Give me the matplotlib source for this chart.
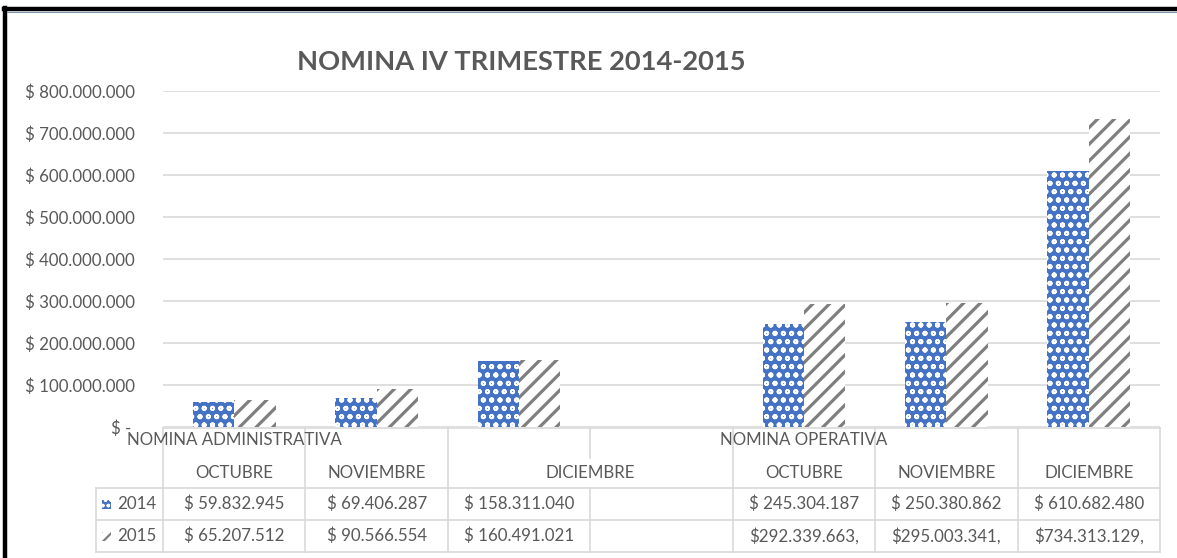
import matplotlib
matplotlib.use("Agg")
import matplotlib.pyplot as plt
import matplotlib.transforms as mtransforms
from matplotlib.patches import Rectangle
from matplotlib.lines import Line2D

# ---------------- data ----------------
groups = ["NOMINA ADMINISTRATIVA", "NOMINA OPERATIVA"]
group_start = [0, 4]
months = ["OCTUBRE", "NOVIEMBRE", "DICIEMBRE", "", "OCTUBRE", "NOVIEMBRE", "DICIEMBRE"]
series_names = ["2014", "2015"]
values_2014 = [59832945, 69406287, 158311040, None, 245304187, 250380862, 610682480]
values_2015 = [65207512, 90566554, 160491021, None, 292339663, 295003341, 734313129]
labels_2014 = ["$ 59.832.945", "$ 69.406.287", "$ 158.311.040", "",
               "$ 245.304.187", "$ 250.380.862", "$ 610.682.480"]
labels_2015 = ["$ 65.207.512", "$ 90.566.554", "$ 160.491.021", "",
               "$292.339.663,", "$295.003.341,", "$734.313.129,"]
y_ticks = [0, 100e6, 200e6, 300e6, 400e6, 500e6, 600e6, 700e6, 800e6]
y_tick_labels = ["$ - ", "$ 100.000.000", "$ 200.000.000", "$ 300.000.000",
                 "$ 400.000.000", "$ 500.000.000", "$ 600.000.000",
                 "$ 700.000.000", "$ 800.000.000"]
title = "NOMINA IV TRIMESTRE 2014-2015"

# ---------------- style ----------------
W, H = 1177, 558
TXT = "#595959"
GRID = "#D9D9D9"
BLUE = "#4472C4"
GRAY = "#7F7F7F"
FONT = "Lato"
FS = 12.2

plt.rcParams["font.family"] = [FONT, "DejaVu Sans"]

fig = plt.figure(figsize=(W / 100, H / 100), dpi=100)
fig.patch.set_facecolor("white")

ax_left, ax_right, ax_top, ax_bottom = 163, 1160, 91, 427
ax = fig.add_axes([ax_left / W, 1 - ax_bottom / H,
                   (ax_right - ax_left) / W, (ax_bottom - ax_top) / H])

n = len(months)
xs = list(range(n))
bw = 0.29

def clean(vals):
    return [0 if v is None else v for v in vals]

with plt.rc_context({"hatch.linewidth": 1.3}):
    b1 = ax.bar([x - bw / 2 for x in xs], clean(values_2014), width=bw,
                facecolor=BLUE, edgecolor="white", hatch="oo", linewidth=0,
                zorder=3)
with plt.rc_context({"hatch.linewidth": 2.3}):
    b2 = ax.bar([x + bw / 2 for x in xs], clean(values_2015), width=bw,
                facecolor="white", edgecolor=GRAY, hatch="//", linewidth=0,
                zorder=3)
for p in b1.patches:
    if hasattr(p, "set_hatch_linewidth"):
        p.set_hatch_linewidth(1.3)
for p in b2.patches:
    if hasattr(p, "set_hatch_linewidth"):
        p.set_hatch_linewidth(2.3)

ax.set_xlim(-0.5, n - 0.5)
ax.set_ylim(0, 800e6)
ax.set_yticks(y_ticks)
ax.set_yticklabels(y_tick_labels, fontsize=FS, color=TXT)
ax.set_xticks([])
ax.tick_params(axis="y", length=0, pad=20)
for s in ax.spines.values():
    s.set_visible(False)
ax.yaxis.grid(True, color=GRID, linewidth=1.2, zorder=0)
ax.set_axisbelow(True)

# title
fig.text(521 / W, 1 - 62 / H, title, ha="center", va="center",
         fontsize=19.6, fontweight="bold", color=TXT)

# ---------------- data table ----------------
tr = mtransforms.blended_transform_factory(ax.transData, fig.transFigure)
def fy(py):
    return 1 - py / H
def fx(px):
    return px / W

t_top, r_month, r_d1, r_d2, t_bot = 428, 458, 488, 520, 552

def hline(x0, x1, py, transform):
    fig.add_artist(Line2D([x0, x1], [fy(py), fy(py)], transform=transform,
                          color=GRID, linewidth=1.2, clip_on=False))

def vline(x, py0, py1, transform):
    fig.add_artist(Line2D([x, x], [fy(py0), fy(py1)], transform=transform,
                          color=GRID, linewidth=1.2, clip_on=False))

# horizontal lines
hline(-0.5, n - 0.5, t_top, tr)
for py in (r_d1, r_d2, t_bot):
    hline(-0.5, n - 0.5, py, tr)
    hline(fx(96), fx(ax_left), py, fig.transFigure)
vline(fx(96), r_d1, t_bot, fig.transFigure)

# vertical lines
for i in range(n + 1):
    xb = i - 0.5
    if 0 < i < n and months[i] == "":
        vline(xb, t_top, r_month, tr)
        vline(xb, r_d1, t_bot, tr)
    else:
        vline(xb, t_top, t_bot, tr)

# group labels
for g, s in zip(groups, group_start):
    fig.text(s, fy(440), g, transform=tr, ha="center", va="center",
             fontsize=FS, color=TXT)

# month labels
for i, m in enumerate(months):
    if not m:
        continue
    xc = i
    if i + 1 < n and months[i + 1] == "":
        xc = i + 0.5
    fig.text(xc, fy(473), m, transform=tr, ha="center", va="center",
             fontsize=FS, color=TXT)

# values
for i in range(n):
    fig.text(i, fy(504), labels_2014[i], transform=tr, ha="center",
             va="center", fontsize=FS, color=TXT)
    fig.text(i, fy(536), labels_2015[i], transform=tr, ha="center",
             va="center", fontsize=FS, color=TXT)

# legend keys
key_styles = [dict(facecolor=BLUE, edgecolor="white", hatch="ooo", lw=1.0),
              dict(facecolor="white", edgecolor=GRAY, hatch="///", lw=1.6)]
for j, (name, st, pyc) in enumerate(zip(series_names, key_styles, (504, 536))):
    with plt.rc_context({"hatch.linewidth": st["lw"]}):
        r = Rectangle((fx(102), fy(pyc + 4.5)), 9 / W, 9 / H,
                      transform=fig.transFigure, facecolor=st["facecolor"],
                      edgecolor=st["edgecolor"], hatch=st["hatch"],
                      linewidth=0)
        if hasattr(r, "set_hatch_linewidth"):
            r.set_hatch_linewidth(st["lw"])
        fig.add_artist(r)
    fig.text(fx(117), fy(pyc), name, ha="left", va="center",
             fontsize=FS, color=TXT)

# outer frame (left and top)
fig.add_artist(Line2D([fx(5), fx(5)], [fy(8), 0], transform=fig.transFigure,
                      color="black", linewidth=3.2))
fig.add_artist(Line2D([fx(3.5), 1], [fy(9), fy(9)], transform=fig.transFigure,
                      color="black", linewidth=3.2))
fig.add_artist(Line2D([fx(7), 1], [fy(11.5), fy(11.5)], transform=fig.transFigure,
                      color="#8497B0", linewidth=0.8))

fig.savefig("out.png", dpi=100)
